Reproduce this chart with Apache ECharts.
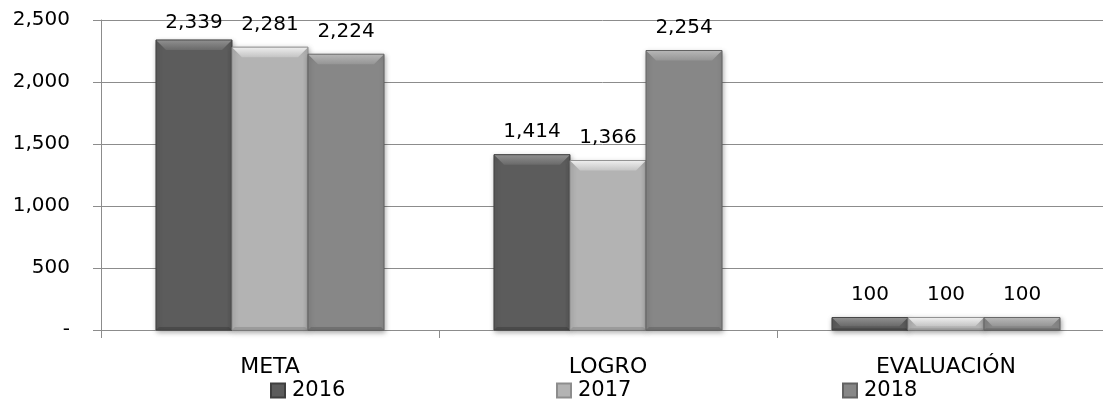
<!DOCTYPE html>
<html>
<head>
<meta charset="utf-8">
<script src="https://cdn.jsdelivr.net/npm/echarts@6/dist/echarts.min.js"></script>
<style>
  html, body { margin: 0; padding: 0; background: #fff; }
  #chart { width: 1103px; height: 399px; }
</style>
</head>
<body>
<div id="chart"></div>
<script>
// Categories and yearly values
const categories = ['META', 'LOGRO', 'EVALUACIÓN'];
const years = ['2016', '2017', '2018'];
const values2016 = [2339, 1414, 100];
const values2017 = [2281, 1366, 100];
const values2018 = [2224, 2254, 100];
const yMax = 2500;
const yStep = 500;

const FONT = 'DejaVu Sans';

// Grey shades per year: face, bevel highlight, bevel low, edge
const shades = [
  { face: '#5c5c5c', hi: '#8e8e8e', lo: '#6a6a6a', edge: '#3f3f3f' },
  { face: '#b3b3b3', hi: '#ececec', lo: '#c4c4c4', edge: '#8d8d8d' },
  { face: '#878787', hi: '#b6b6b6', lo: '#959595', edge: '#626262' }
];

const seriesValues = [values2016, values2017, values2018];

function fmt(v) {
  return v === 0 ? '-' : v.toLocaleString('en-US');
}

function makeRender(idx) {
  const s = shades[idx];
  return function (params, api) {
    const cat = api.value(0);
    const v = api.value(1);
    const base = api.coord([cat, 0]);
    const top = api.coord([cat, v]);
    const bandW = api.size([1, 0])[0];
    const barW = bandW * 0.2249;
    const cx = base[0] + (idx - 1) * barW;
    const x0 = cx - barW / 2;
    const x1 = cx + barW / 2;
    const yT = top[1];
    const yB = base[1];
    const h = yB - yT;
    const b = Math.min(10, h * 0.7);
    const bb = Math.min(3, h * 0.15);
    // keep value labels inside the chart's top edge
    const labelBottom = Math.max(yT - 12.5, 32.5);
    return {
      type: 'group',
      children: [
        {
          type: 'rect',
          shape: { x: x0, y: yT, width: barW, height: h },
          style: {
            fill: s.face, stroke: s.edge, lineWidth: 1,
            shadowBlur: 5, shadowColor: 'rgba(0,0,0,0.35)', shadowOffsetY: 2, shadowOffsetX: 1
          }
        },
        {
          type: 'polygon',
          shape: { points: [[x0 + 0.5, yT + 0.5], [x1 - 0.5, yT + 0.5], [x1 - b, yT + b], [x0 + b, yT + b]] },
          style: {
            fill: new echarts.graphic.LinearGradient(0, 0, 0, 1, [
              { offset: 0, color: s.hi },
              { offset: 1, color: s.lo }
            ])
          }
        },
        {
          type: 'polygon',
          shape: { points: [[x0 + 0.5, yB - 0.5], [x1 - 0.5, yB - 0.5], [x1 - bb, yB - bb], [x0 + bb, yB - bb]] },
          style: { fill: s.edge, opacity: 0.6 }
        },
        {
          type: 'text',
          x: cx,
          y: labelBottom,
          style: {
            text: fmt(v),
            fill: '#000',
            fontSize: 20,
            fontFamily: FONT,
            align: 'center',
            verticalAlign: 'bottom'
          }
        }
      ]
    };
  };
}

const series = years.map((y, i) => ({
  name: y,
  type: 'custom',
  renderItem: makeRender(i),
  encode: { x: 0, y: 1 },
  itemStyle: { color: shades[i].face, borderColor: shades[i].edge, borderWidth: 1 },
  data: seriesValues[i].map((v, c) => [c, v]),
  z: 3
}));

const legendLeft = [270, 556, 842];
const legends = years.map((y, i) => ({
  data: [y],
  left: legendLeft[i],
  top: 380,
  orient: 'horizontal',
  icon: 'rect',
  itemWidth: 14,
  itemHeight: 14,
  itemGap: 0,
  padding: 0,
  textStyle: { fontSize: 21, fontFamily: FONT, color: '#000', padding: [0, 0, 0, 2] }
}));

const chart = echarts.init(document.getElementById('chart'), null, { renderer: 'canvas' });
chart.setOption({
  animation: false,
  backgroundColor: '#fff',
  grid: { left: 101, width: 1014, top: 20, height: 310, containLabel: false, outerBoundsMode: 'none' },
  legend: legends,
  xAxis: {
    type: 'category',
    data: categories,
    boundaryGap: true,
    axisLine: { show: true, lineStyle: { color: '#8c8c8c', width: 1 } },
    axisTick: { show: true, length: 8, alignWithLabel: false, lineStyle: { color: '#8c8c8c' } },
    axisLabel: { fontSize: 22, fontFamily: FONT, color: '#000', margin: 26 }
  },
  yAxis: {
    type: 'value',
    min: 0,
    max: yMax,
    interval: yStep,
    axisLine: { show: true, lineStyle: { color: '#8c8c8c', width: 1 } },
    axisTick: { show: true, length: 8, lineStyle: { color: '#8c8c8c' } },
    splitLine: { show: true, lineStyle: { color: '#8c8c8c', width: 1 } },
    axisLabel: { fontSize: 20, fontFamily: FONT, color: '#000', margin: 31, formatter: fmt }
  },
  series: series
});
</script>
</body>
</html>
